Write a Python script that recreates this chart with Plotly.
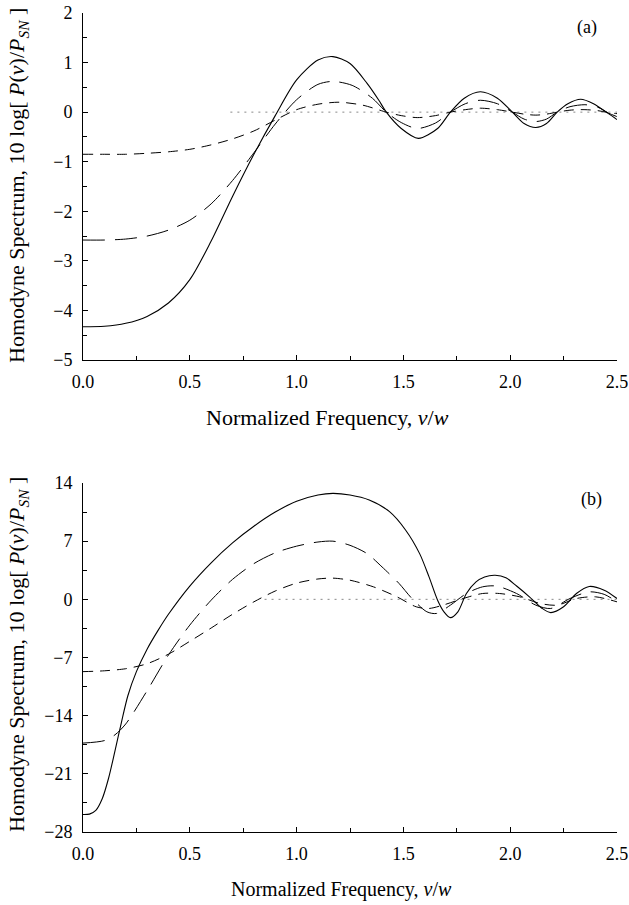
import plotly.graph_objects as go

# ---------------- data: panel (a) ----------------
a_solid_x = [0, 0.1, 0.2, 0.3, 0.4, 0.5, 0.6, 0.7, 0.8, 0.9, 1.0, 1.1, 1.17,
             1.25, 1.33, 1.385, 1.42, 1.49, 1.57, 1.66, 1.72, 1.785, 1.86, 1.94, 2.01, 2.065, 2.12, 2.17, 2.22,
             2.27, 2.33, 2.39, 2.46, 2.50]
a_solid_y = [-4.33, -4.32, -4.26, -4.12, -3.85, -3.38, -2.60, -1.70, -0.85, -0.07, 0.65, 1.05, 1.12,
             0.98, 0.58, 0.24, 0.0, -0.33, -0.53, -0.33, 0.0, 0.28, 0.41, 0.28, 0.0, -0.23, -0.31,
             -0.23, 0.0, 0.17, 0.26, 0.17, -0.03, -0.15]

a_long_x = [0, 0.1, 0.2, 0.3, 0.4, 0.5, 0.6, 0.7, 0.8, 0.9, 1.0, 1.1, 1.17, 1.26,
            1.355, 1.42, 1.49, 1.565, 1.65, 1.72, 1.79, 1.86, 1.94, 2.01, 2.065, 2.12, 2.17, 2.22, 2.28, 2.35,
            2.41, 2.46, 2.50]
a_long_y = [-2.58, -2.58, -2.56, -2.50, -2.38, -2.18, -1.85, -1.38, -0.82, -0.24, 0.25, 0.56, 0.62, 0.54,
            0.28, 0.0, -0.21, -0.33, -0.22, 0.0, 0.17, 0.24, 0.17, 0.0, -0.14, -0.19, -0.14, 0.0,
            0.11, 0.15, 0.10, -0.02, -0.09]

a_short_x = [0, 0.1, 0.2, 0.3, 0.4, 0.5, 0.6, 0.7, 0.8, 0.9, 1.0, 1.1, 1.2, 1.31, 1.42, 1.49, 1.565, 1.65,
             1.72, 1.79, 1.86, 1.94, 2.01, 2.065, 2.12, 2.17, 2.22, 2.28, 2.35, 2.41, 2.46, 2.50]
a_short_y = [-0.85, -0.85, -0.85, -0.83, -0.80, -0.75, -0.66, -0.54, -0.38, -0.16, 0.05, 0.16, 0.20, 0.14,
             0.0, -0.07, -0.11, -0.07, 0.0, 0.05, 0.08, 0.05, 0.0, -0.04, -0.06, -0.04, 0.0, 0.04, 0.05,
             0.03, -0.01, -0.03]

a_ref_x = [0.69, 2.50]
a_ref_y = [0.0, 0.0]

# ---------------- data: panel (b) ----------------
b_solid_x = [0, 0.03, 0.06, 0.09, 0.12, 0.15, 0.18, 0.21, 0.25, 0.30, 0.35, 0.40, 0.50, 0.60, 0.70, 0.80,
             0.90, 1.00, 1.10, 1.17, 1.25, 1.34, 1.435, 1.51, 1.576, 1.62, 1.66, 1.69, 1.72, 1.755, 1.795,
             1.84, 1.88, 1.93, 1.98, 2.03, 2.09, 2.15, 2.19, 2.25, 2.31, 2.37, 2.44, 2.50]
b_solid_y = [-25.9, -25.85, -25.4, -24.0, -21.5, -18.2, -14.8, -11.6, -8.7, -6.0, -3.8, -1.8, 1.6, 4.4, 6.8,
             8.8, 10.5, 11.8, 12.55, 12.75, 12.55, 11.95, 10.55, 8.35, 5.5, 2.7, -0.1, -1.5, -2.2, -1.5, 0.7,
             2.1, 2.7, 2.9, 2.6, 1.6, 0.3, -1.1, -1.6, -0.9, 0.7, 1.55, 1.1, 0.1]

b_long_x = [0, 0.1, 0.15, 0.2, 0.3, 0.4, 0.5, 0.6, 0.7, 0.8, 0.9, 1.0, 1.1, 1.17, 1.25, 1.33,
            1.40, 1.48, 1.54, 1.61, 1.655, 1.72, 1.795, 1.87, 1.935, 2.03, 2.12, 2.19, 2.28, 2.37, 2.44, 2.50]
b_long_y = [-17.3, -17.0, -16.3, -15.0, -11.0, -6.7, -3.1, -0.1, 2.4, 4.3, 5.6, 6.4, 6.9, 7.0, 6.5, 5.5,
            3.9, 1.9, 0.1, -1.5, -1.7, -0.7, 0.7, 1.5, 1.6, 0.7, -0.7, -1.1, 0.1, 0.9, 0.6, -0.3]

b_short_x = [0, 0.1, 0.2, 0.3, 0.4, 0.5, 0.6, 0.7, 0.8, 0.9, 1.0, 1.1, 1.17, 1.25, 1.36, 1.47, 1.56,
             1.62, 1.685, 1.78, 1.87, 1.95, 2.045, 2.14, 2.22, 2.31, 2.40, 2.50]
b_short_y = [-8.7, -8.6, -8.35, -7.75, -6.6, -5.05, -3.45, -1.8, -0.3, 1.0, 1.95, 2.45, 2.55, 2.3, 1.5, 0.3,
             -0.9, -1.1, -0.7, 0.1, 0.7, 0.7, 0.3, -0.5, -0.7, 0.1, 0.3, -0.3]

b_ref_x = [0.85, 2.50]
b_ref_y = [0.0, 0.0]

x_ticks = [0.0, 0.5, 1.0, 1.5, 2.0, 2.5]
x_ticktext = ["0.0", "0.5", "1.0", "1.5", "2.0", "2.5"]
a_yticks = [2, 1, 0, -1, -2, -3, -4, -5]
b_yticks = [14, 7, 0, -7, -14, -21, -28]

# ---------------- figure ----------------
W, H = 629, 905
FONT = "Liberation Serif, Times New Roman, serif"

fig = go.Figure()

def add_line(x, y, dash, width, xa, ya, color="black"):
    fig.add_trace(go.Scatter(x=x, y=y, mode="lines", xaxis=xa, yaxis=ya,
                             line=dict(color=color, width=width, dash=dash, shape="spline", smoothing=0.8),
                             showlegend=False, hoverinfo="skip"))

add_line(a_ref_x, a_ref_y, "2px,5px", 1, "x", "y", color="#888888")
add_line(a_short_x, a_short_y, "10px,7px", 1, "x", "y")
add_line(a_long_x, a_long_y, "22px,10px", 1, "x", "y")
add_line(a_solid_x, a_solid_y, "solid", 1.1, "x", "y")

add_line(b_ref_x, b_ref_y, "2px,5px", 1, "x2", "y2", color="#888888")
add_line(b_short_x, b_short_y, "10px,7px", 1, "x2", "y2")
add_line(b_long_x, b_long_y, "22px,10px", 1, "x2", "y2")
add_line(b_solid_x, b_solid_y, "solid", 1.1, "x2", "y2")

xdom = [83 / W, 617 / W]
top_dom = [(H - 360) / H, (H - 13) / H]
bot_dom = [(H - 832) / H, (H - 483) / H]

def xaxis_cfg(anchor):
    return dict(domain=xdom, anchor=anchor, range=[0, 2.5], tickvals=x_ticks, ticktext=x_ticktext,
                ticks="inside", ticklen=5, tickcolor="black", tickwidth=1, automargin=False,
                minor=dict(dtick=0.25, tick0=0, ticks="inside", ticklen=4, tickcolor="black"),
                showline=True, linecolor="black", linewidth=1, showgrid=False, zeroline=False,
                tickfont=dict(family=FONT, size=18, color="black"), ticklabelstandoff=5)

def yaxis_cfg(anchor, dom, rng, vals, dt):
    return dict(domain=dom, anchor=anchor, range=rng, tickvals=vals, automargin=False,
                ticks="inside", ticklen=5, tickcolor="black", tickwidth=1,
                minor=dict(dtick=dt / 2, tick0=0, ticks="inside", ticklen=4, tickcolor="black"),
                showline=True, linecolor="black", linewidth=1, showgrid=False, zeroline=False,
                tickfont=dict(family=FONT, size=18, color="black"), ticklabelstandoff=6)

fig.update_layout(
    width=W, height=H,
    margin=dict(l=0, r=0, t=0, b=0, autoexpand=False),
    paper_bgcolor="white", plot_bgcolor="white",
    xaxis=xaxis_cfg("y"),
    yaxis=yaxis_cfg("x", top_dom, [-5, 2], a_yticks, 1),
    xaxis2=xaxis_cfg("y2"),
    yaxis2=yaxis_cfg("x2", bot_dom, [-28, 14], b_yticks, 7),
)

ytitle = "Homodyne Spectrum, 10 log[ <i>P</i>(<i>ν</i>)/<i>P</i><sub><i>SN</i></sub> ]"
xtitle = "Normalized Frequency, <i>ν</i>/<i>w</i>"

annots = [
    dict(text=ytitle, x=18 / W, y=(H - 186) / H, textangle=-90, font_size=22),
    dict(text=ytitle, x=18 / W, y=(H - 655) / H, textangle=-90, font_size=22),
    dict(text=xtitle, x=327 / W, y=(H - 417) / H, font_size=22),
    dict(text=xtitle, x=341 / W, y=(H - 889) / H, font_size=20),
    dict(text="(a)", x=587 / W, y=(H - 28) / H, font_size=18),
    dict(text="(b)", x=591 / W, y=(H - 500) / H, font_size=18),
]
for a in annots:
    fs = a.pop("font_size")
    fig.add_annotation(xref="paper", yref="paper", showarrow=False, xanchor="center", yanchor="middle",
                       font=dict(family=FONT, size=fs, color="black"), **a)

fig.write_html("out.html")
